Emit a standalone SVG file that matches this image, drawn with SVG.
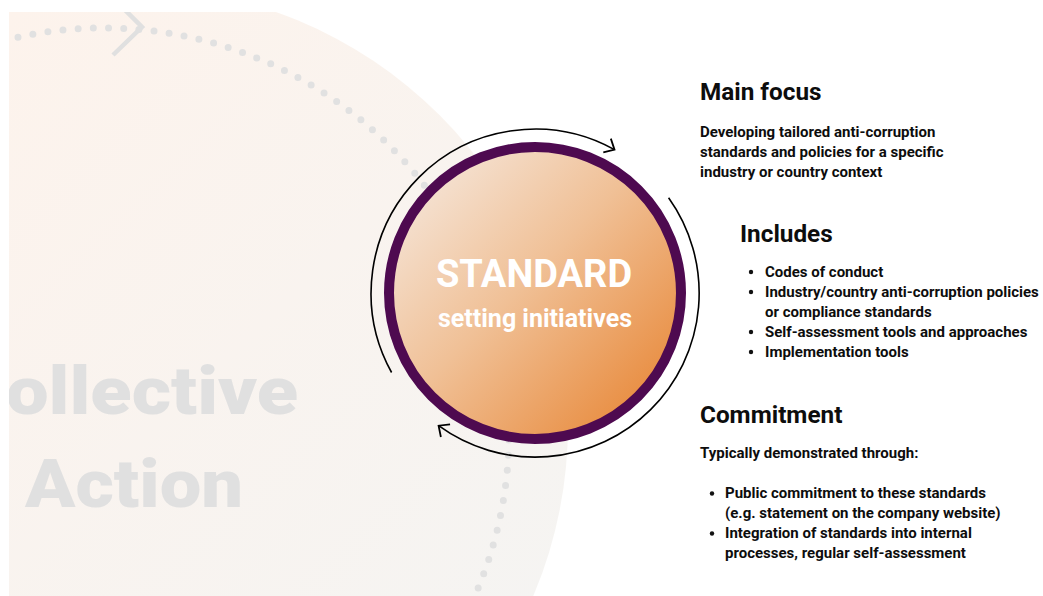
<svg xmlns="http://www.w3.org/2000/svg" width="1043" height="596" viewBox="0 0 1043 596">
<defs>
<style>
.t{font-family:Roboto,"Liberation Sans",sans-serif;fill:#0d0d0d}
.h{font-size:24.3px;font-weight:700}
.p{font-size:15px;font-weight:700}
.wm{font-family:Roboto,"Liberation Sans",sans-serif;font-weight:900;font-size:67px;fill:#e0e0e0}
.arc{fill:none;stroke:#000;stroke-width:1.6}
.dots{fill:none;stroke:#e1e1e1;stroke-width:7;stroke-linecap:round;stroke-dasharray:0 15.2}
</style>
<clipPath id="bgclip"><rect x="9" y="12" width="1034" height="584"/></clipPath>
<linearGradient id="bgGrad" gradientUnits="userSpaceOnUse" x1="9" y1="12" x2="560" y2="596">
<stop offset="0" stop-color="#fdf3ec"/>
<stop offset="1" stop-color="#f5f4f2"/>
</linearGradient>
<linearGradient id="orange" x1="0.1" y1="0.1" x2="0.92" y2="0.9">
<stop offset="0" stop-color="#f5e4d6"/>
<stop offset="0.45" stop-color="#f0c096"/>
<stop offset="1" stop-color="#e8893a"/>
</linearGradient>
<marker id="arrow" viewBox="-12 -10 14 20" refX="0" refY="0" markerWidth="14" markerHeight="20" markerUnits="userSpaceOnUse" orient="auto">
<path d="M-8.5,-7.8 L0,0 L-8.5,7.8" fill="none" stroke="#000" stroke-width="1.8" stroke-linejoin="miter"/>
</marker>
</defs>

<g id="background" clip-path="url(#bgclip)">
<circle cx="130" cy="425" r="438" fill="url(#bgGrad)"/>
<path class="dots" d="M18,37.2 A405,405 0 0 1 454.7,635.5"/>
<path d="M117,2 L142,27 L113,55" fill="none" stroke="#e0e0e0" stroke-width="4.5"/>
<text class="wm" x="6" y="414" textLength="292" lengthAdjust="spacingAndGlyphs">ollective</text>
<text class="wm" x="25" y="506.5" textLength="218" lengthAdjust="spacingAndGlyphs">Action</text>
</g>

<g id="standard-node">
<circle cx="535" cy="293" r="146" fill="url(#orange)" stroke="#4e0a50" stroke-width="10"/>
<text x="534" y="287" text-anchor="middle" font-family="Roboto,'Liberation Sans',sans-serif" font-weight="700" font-size="38" fill="#fff">STANDARD</text>
<text x="535" y="327" text-anchor="middle" font-family="Roboto,'Liberation Sans',sans-serif" font-weight="700" font-size="25" fill="#fff">setting initiatives</text>
</g>

<g id="connectors">
<path class="arc" d="M391.6,372.5 A164,164 0 0 1 614.5,149.6" marker-end="url(#arrow)"/>
<path class="arc" d="M668.6,197.8 A164,164 0 0 1 438.6,425.7" marker-end="url(#arrow)"/>
</g>

<g id="main-focus">
<text class="t h" x="700" y="100">Main focus</text>
<text class="t p" x="700" y="137">Developing tailored anti-corruption</text>
<text class="t p" x="700" y="157">standards and policies for a specific</text>
<text class="t p" x="700" y="177">industry or country context</text>
</g>

<g id="includes">
<text class="t h" x="740" y="242">Includes</text>
<circle cx="751" cy="272" r="2.2" fill="#111"/>
<circle cx="751" cy="292" r="2.2" fill="#111"/>
<circle cx="751" cy="332" r="2.2" fill="#111"/>
<circle cx="751" cy="352" r="2.2" fill="#111"/>
<text class="t p" x="765" y="277">Codes of conduct</text>
<text class="t p" x="765" y="297">Industry/country anti-corruption policies</text>
<text class="t p" x="765" y="317">or compliance standards</text>
<text class="t p" x="765" y="337">Self-assessment tools and approaches</text>
<text class="t p" x="765" y="357">Implementation tools</text>
</g>

<g id="commitment">
<text class="t h" x="700" y="423">Commitment</text>
<text class="t p" x="700" y="458">Typically demonstrated through:</text>
<circle cx="712" cy="493.5" r="2.2" fill="#111"/>
<circle cx="712" cy="533.5" r="2.2" fill="#111"/>
<text class="t p" x="725" y="498">Public commitment to these standards</text>
<text class="t p" x="725" y="518">(e.g. statement on the company website)</text>
<text class="t p" x="725" y="538">Integration of standards into internal</text>
<text class="t p" x="725" y="558">processes, regular self-assessment</text>
</g>
</svg>
